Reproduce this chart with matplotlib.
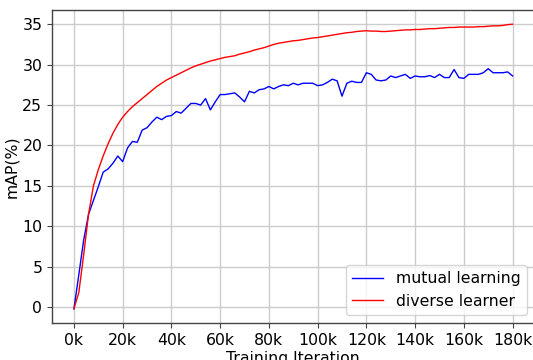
import numpy as np
import matplotlib
matplotlib.use("Agg")
import matplotlib.pyplot as plt
from matplotlib.ticker import FuncFormatter

iterations_k = list(range(0, 182, 2))

mutual_learning = [
    -0.2, 4.0, 8.3, 11.5, 13.2, 14.9, 16.7, 17.1, 17.8, 18.7,
    18.0, 19.7, 20.5, 20.4, 21.9, 22.2, 22.9, 23.5, 23.2, 23.6,
    23.7, 24.2, 24.0, 24.6, 25.2, 25.2, 25.0, 25.8, 24.4, 25.4,
    26.3, 26.3, 26.4, 26.5, 26.0, 25.4, 26.7, 26.5, 26.9, 27.0,
    27.3, 27.0, 27.3, 27.5, 27.4, 27.7, 27.5, 27.7, 27.7, 27.7,
    27.4, 27.5, 27.8, 28.2, 28.0, 26.1, 27.7, 27.95, 27.8, 27.8,
    29.0, 28.8, 28.1, 28.0, 28.1, 28.6, 28.4, 28.6, 28.8, 28.3,
    28.6, 28.5, 28.5, 28.65, 28.4, 28.8, 28.4, 28.4, 29.4, 28.4,
    28.3, 28.8, 28.8, 28.8, 29.0, 29.5, 29.0, 29.0, 29.0, 29.1,
    28.6,
]

diverse_learner = [
    -0.2, 1.8, 6.5, 11.5, 15.0, 17.0, 18.7, 20.2, 21.5, 22.6,
    23.5, 24.2, 24.8, 25.3, 25.8, 26.3, 26.8, 27.3, 27.7, 28.1,
    28.4, 28.7, 29.0, 29.3, 29.6, 29.85, 30.05, 30.25, 30.45, 30.6,
    30.75, 30.9, 31.0, 31.1, 31.3, 31.45, 31.6, 31.8, 31.95, 32.1,
    32.3, 32.5, 32.65, 32.75, 32.85, 32.95, 33.0, 33.1, 33.2, 33.3,
    33.35, 33.45, 33.55, 33.65, 33.75, 33.85, 33.95, 34.0, 34.1, 34.15,
    34.2, 34.15, 34.15, 34.1, 34.1, 34.15, 34.2, 34.25, 34.3, 34.3,
    34.35, 34.35, 34.4, 34.45, 34.45, 34.5, 34.55, 34.6, 34.6, 34.65,
    34.65, 34.65, 34.65, 34.7, 34.7, 34.75, 34.8, 34.8, 34.85, 34.95,
    35.0,
]

series_labels = ["mutual learning", "diverse learner"]
xticks_k = [0, 20, 40, 60, 80, 100, 120, 140, 160, 180]
yticks = [0, 5, 10, 15, 20, 25, 30, 35]

FS = 11.3
fig = plt.figure(figsize=(5.33, 3.60), dpi=100)
ax = fig.add_axes([52/533, 37/360, 482.5/533, 313/360])

x = np.array(iterations_k) * 1000
ax.plot(x, mutual_learning, color="blue", lw=1.0, label=series_labels[0])
ax.plot(x, diverse_learner, color="red", lw=1.0, label=series_labels[1])

ax.set_xticks([k * 1000 for k in xticks_k])
ax.xaxis.set_major_formatter(FuncFormatter(lambda v, p: f"{int(round(v/1000))}k"))
ax.set_yticks(yticks)
ax.tick_params(labelsize=FS, color="#444444", length=3.5)
ax.grid(True, color="#cccccc", lw=1.0)
ax.set_axisbelow(True)
for s in ax.spines.values():
    s.set_color("#444444")
    s.set_linewidth(1.0)

ax.set_xlabel("Training Iteration", fontsize=FS, labelpad=2)
ax.set_ylabel("mAP(%)", fontsize=FS, labelpad=2)
ax.legend(loc="lower right", fontsize=FS)

fig.savefig("out.png", dpi=100)
